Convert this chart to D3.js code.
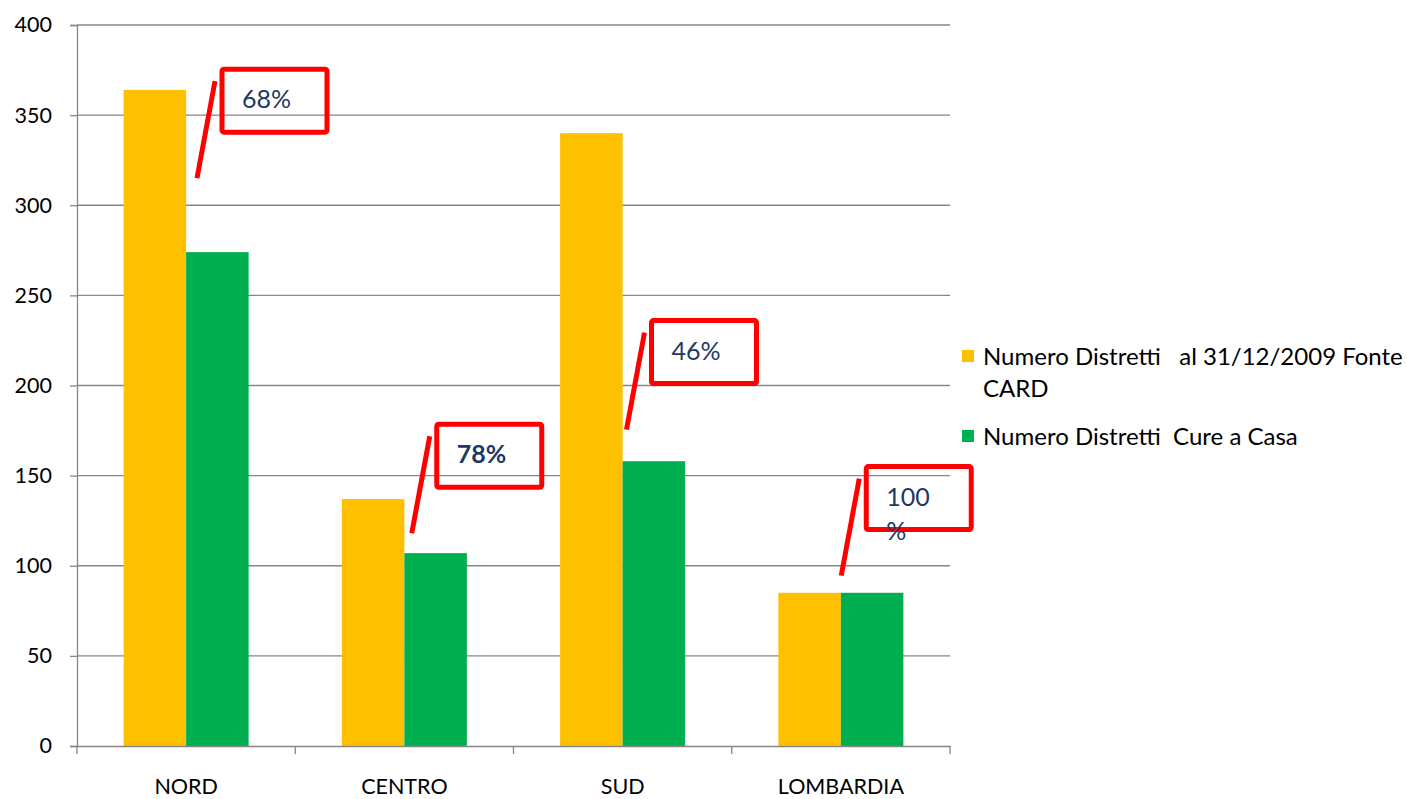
<!DOCTYPE html>
<html><head><meta charset="utf-8">
<script src="https://cdn.jsdelivr.net/npm/d3@7"></script>
<style>body{margin:0;background:#fff}svg{display:block}text{font-family:Lato,"Open Sans",sans-serif}</style>
</head><body><svg id="c" width="1407" height="799"></svg>
<script>
const categories = ["NORD","CENTRO","SUD","LOMBARDIA"];
const seriesNames = ["Numero Distretti   al 31/12/2009 Fonte CARD","Numero Distretti  Cure a Casa"];
const distrettiCARD = [364,137,340,85];
const distrettiCureCasa = [274,107,158,85];
const yTicks = [0,50,100,150,200,250,300,350,400];
const percentLabels = ["68%","78%","46%","100 %"];
const colors = ["#FFC000","#00B050"];

const svg = d3.select("#c");
const L=77,R=950,T=25,B=746;
const x = d3.scaleBand().domain(categories).range([L,R]);
const xs = d3.scaleBand().domain([0,1]).range([0,125]);
const y = d3.scaleLinear().domain([0,400]).range([B,T]);
// annotation box anchors (value space) – layout only
const annTop = [375.5,178.5,236,155];

svg.append("g").selectAll("line").data(yTicks.slice(1)).join("line")
 .attr("x1",L).attr("x2",R).attr("y1",d=>y(d)).attr("y2",d=>y(d))
 .attr("stroke","#868686").attr("stroke-width",1.3);

const yAxis = svg.append("g").attr("transform",`translate(${L},0)`)
 .call(d3.axisLeft(y).tickValues(yTicks).tickSize(7).tickPadding(18));
yAxis.select(".domain").attr("stroke","#868686").attr("stroke-width",1.3);
yAxis.selectAll(".tick line").attr("stroke","#868686").attr("stroke-width",1.3);
yAxis.selectAll("text").attr("font-size",21.5).attr("fill","#000").attr("font-family","Lato");

const data = categories.map((c,i)=>({c,v:[distrettiCARD[i],distrettiCureCasa[i]]}));
const g = svg.append("g");
data.forEach(d=>{
  const gx = x(d.c)+x.bandwidth()/2-62.5;
  g.selectAll(null).data(d.v).join("rect")
   .attr("x",(v,j)=>gx+xs(j)).attr("width",xs.bandwidth())
   .attr("y",v=>y(v)).attr("height",v=>B-y(v)).attr("fill",(v,j)=>colors[j]);
});

const xAxis = svg.append("g").attr("transform",`translate(0,${B})`)
 .call(d3.axisBottom(x).tickSize(0).tickPadding(33));
xAxis.select(".domain").attr("stroke","#868686").attr("stroke-width",1.3);
xAxis.selectAll("text").attr("font-size",21.5).attr("fill","#000").attr("font-family","Lato");
svg.append("g").selectAll("line").data(d3.range(5)).join("line")
 .attr("x1",i=>L+i*x.step()).attr("x2",i=>L+i*x.step()).attr("y1",B).attr("y2",B+8)
 .attr("stroke","#868686").attr("stroke-width",1.3);

const ann = svg.append("g");
data.forEach((d,i)=>{
  const bx = x(d.c)+145-i*3.5;
  const by = y(annTop[i]);
  ann.append("line").attr("x1",bx-25).attr("y1",by+109).attr("x2",bx-7).attr("y2",by+12)
   .attr("stroke","#FF0000").attr("stroke-width",5);
  ann.append("rect").attr("x",bx).attr("y",by).attr("width",105).attr("height",63).attr("rx",2)
   .attr("fill","none").attr("stroke","#FF0000").attr("stroke-width",5);
  const parts = percentLabels[i].split(" ");
  const t = ann.append("text").attr("x",bx+19).attr("y",by+39).attr("font-size",25)
   .attr("fill","#1F3864").attr("font-weight",i===1?"bold":"normal");
  parts.forEach((p,k)=>t.append("tspan").attr("x",bx+20).attr("dy",k?34:0).text(p));
});

const lg = svg.append("g");
const leg = [{y:357,lines:["Numero Distretti   al 31/12/2009 Fonte","CARD"]},{y:437,lines:["Numero Distretti  Cure a Casa"]}];
leg.forEach((e,i)=>{
  lg.append("rect").attr("x",962).attr("y",e.y-7).attr("width",12).attr("height",12).attr("fill",colors[i]);
  const t = lg.append("text").attr("x",983).attr("y",e.y+8).attr("font-size",24).attr("fill","#000").attr("xml:space","preserve");
  e.lines.forEach((l,k)=>t.append("tspan").attr("x",983).attr("dy",k?32:0).text(l));
});
</script></body></html>
